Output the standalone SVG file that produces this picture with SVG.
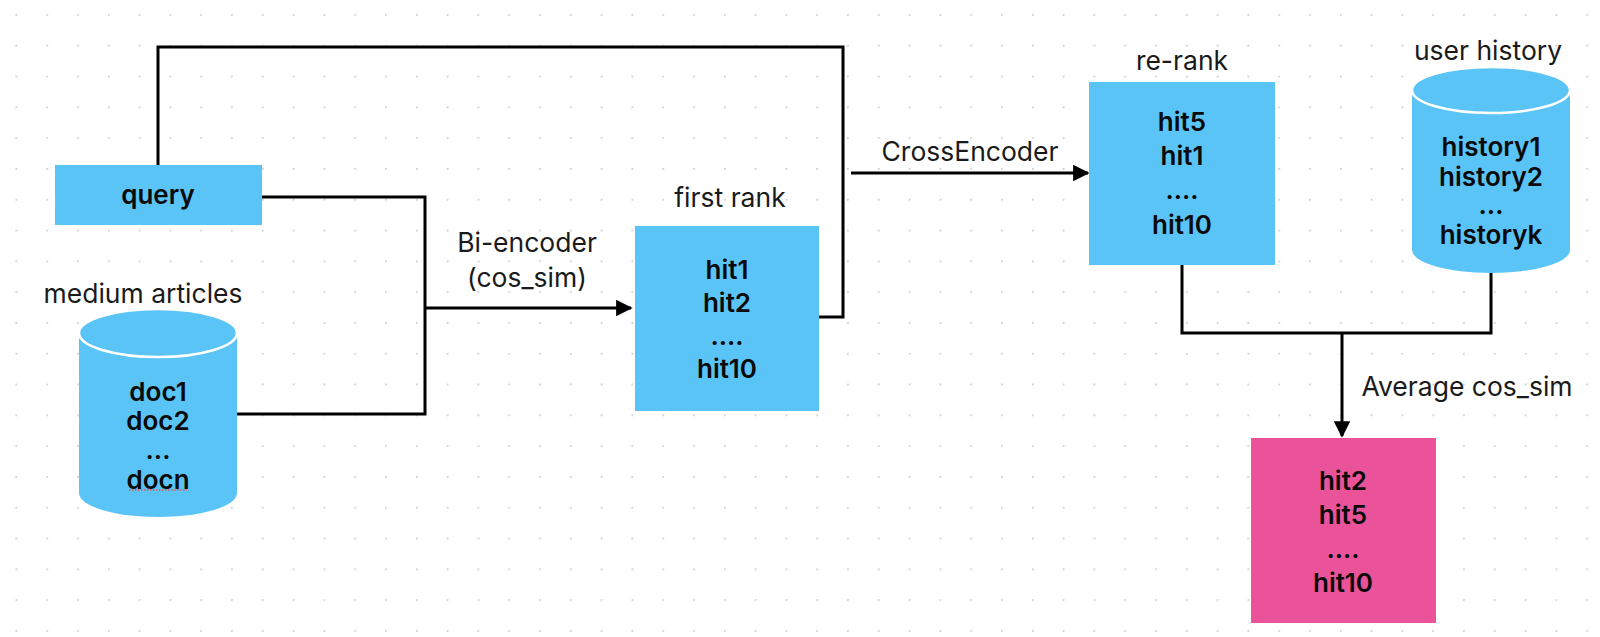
<svg xmlns="http://www.w3.org/2000/svg" width="1600" height="637" viewBox="0 0 1600 637">
<defs>
<pattern id="dots" x="15.5" y="14" width="30.8" height="30.8" patternUnits="userSpaceOnUse">
<circle cx="0.8" cy="0.8" r="1.1" fill="#cfcfcf"/>
</pattern>
<marker id="arr" viewBox="0 0 10 10" refX="9" refY="5" markerWidth="5.5" markerHeight="5.5" orient="auto" markerUnits="strokeWidth">
<path d="M0,0 L10,5 L0,10 z" fill="#000"/>
</marker>
<style>
.lbl{font-family:Inter,"Liberation Sans",sans-serif;font-size:26.5px;fill:#1a1a1a;text-anchor:middle}
.in{font-family:Inter,"Liberation Sans",sans-serif;font-size:26px;font-weight:600;fill:#0a0a0a;text-anchor:middle}
.blue{fill:#5BC4F6}
.pink{fill:#EA539A}
.conn{fill:none;stroke:#000;stroke-width:3}
</style>
</defs>
<rect width="1600" height="637" fill="#fff"/>
<rect width="1600" height="637" fill="url(#dots)"/>

<g id="connectors">
<polyline class="conn" points="262,197 425,197 425,414 237,414"/>
<line class="conn" x1="425" y1="308" x2="631" y2="308" marker-end="url(#arr)"/>
<polyline class="conn" points="819,317 843,317 843,47 158,47 158,165"/>
<line class="conn" x1="851" y1="173" x2="1088" y2="173" marker-end="url(#arr)"/>
<polyline class="conn" points="1182,265 1182,333 1491,333 1491,273"/>
<line class="conn" x1="1342" y1="333" x2="1342" y2="436" marker-end="url(#arr)"/>
<text class="lbl" x="527" y="252">Bi-encoder</text>
<text class="lbl" x="527" y="287">(cos_sim)</text>
<text class="lbl" x="970" y="161">CrossEncoder</text>
<text class="lbl" x="1467" y="396">Average cos_sim</text>
</g>

<g id="query">
<rect class="blue" x="55" y="165" width="207" height="60"/>
<text class="in" x="158" y="204">query</text>
</g>

<g id="medium-articles">
<text class="lbl" x="143" y="303">medium articles</text>
<rect class="blue" x="79" y="333" width="158" height="160"/>
<ellipse class="blue" cx="158" cy="493" rx="79" ry="24"/>
<ellipse class="blue" cx="158" cy="333" rx="79" ry="24" stroke="#fff" stroke-width="2.5"/>
<text class="in" x="158" y="401">doc1</text>
<text class="in" x="158" y="430">doc2</text>
<text class="in" x="158" y="459">...</text>
<text class="in" x="158" y="489">docn</text>
<line x1="129" y1="490" x2="187" y2="490" stroke="#e05a5a" stroke-width="1.5" stroke-dasharray="1.5,1.5"/>
</g>

<g id="first-rank">
<text class="lbl" x="730" y="207">first rank</text>
<rect class="blue" x="635" y="226" width="184" height="185"/>
<text class="in" x="727" y="279">hit1</text>
<text class="in" x="727" y="312">hit2</text>
<text class="in" x="727" y="345">....</text>
<text class="in" x="727" y="378">hit10</text>
</g>

<g id="re-rank">
<text class="lbl" x="1182" y="70">re-rank</text>
<rect class="blue" x="1089" y="82" width="186" height="183"/>
<text class="in" x="1182" y="131">hit5</text>
<text class="in" x="1182" y="165">hit1</text>
<text class="in" x="1182" y="199">....</text>
<text class="in" x="1182" y="234">hit10</text>
</g>

<g id="user-history">
<text class="lbl" x="1488" y="60">user history</text>
<rect class="blue" x="1412" y="90" width="158" height="160"/>
<ellipse class="blue" cx="1491" cy="250" rx="79" ry="23"/>
<ellipse class="blue" cx="1491" cy="90" rx="79" ry="23" stroke="#fff" stroke-width="2.5"/>
<text class="in" x="1491" y="156">history1</text>
<text class="in" x="1491" y="186">history2</text>
<text class="in" x="1491" y="214">...</text>
<text class="in" x="1491" y="244">historyk</text>
</g>

<g id="final-rank">
<rect class="pink" x="1251" y="438" width="185" height="185"/>
<text class="in" x="1343" y="490">hit2</text>
<text class="in" x="1343" y="524">hit5</text>
<text class="in" x="1343" y="558">....</text>
<text class="in" x="1343" y="592">hit10</text>
</g>
</svg>
